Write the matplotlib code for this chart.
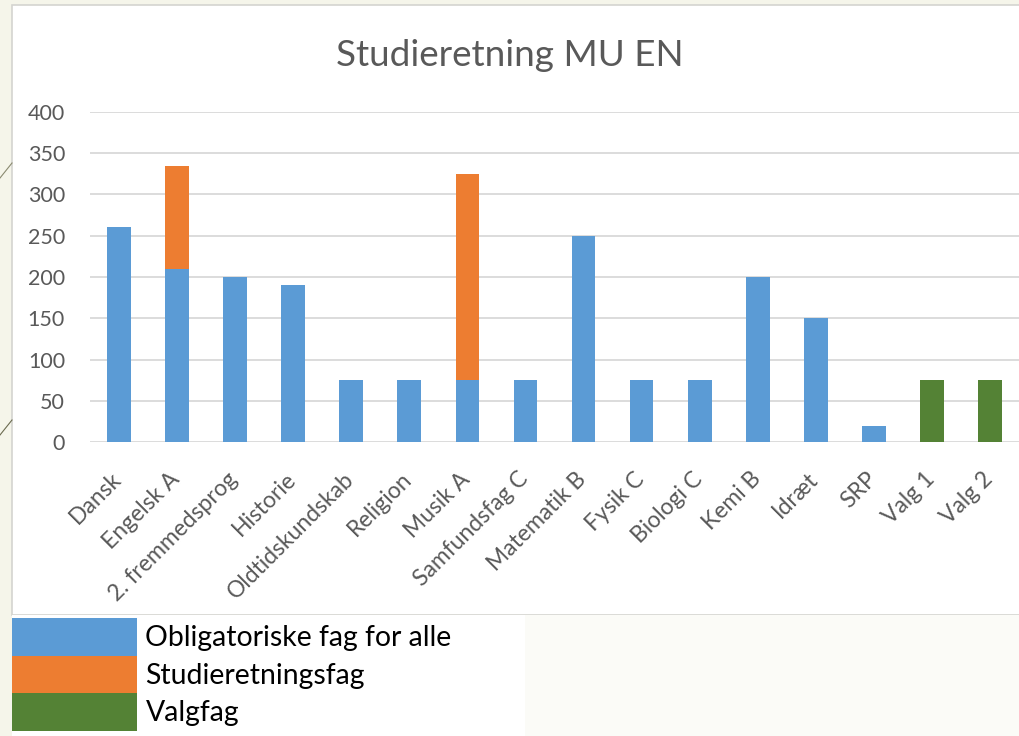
import matplotlib.pyplot as plt
import matplotlib.transforms as mtransforms
from matplotlib.patches import Rectangle, Patch
from matplotlib.lines import Line2D
import numpy as np

plt.rcParams["font.family"] = ["Lato", "DejaVu Sans"]

fag = ["Dansk", "Engelsk A", "2. fremmedsprog", "Historie", "Oldtidskundskab",
       "Religion", "Musik A", "Samfundsfag C", "Matematik B", "Fysik C",
       "Biologi C", "Kemi B", "Idræt", "SRP", "Valg 1", "Valg 2"]
obligatorisk = [260, 210, 200, 190, 75, 75, 75, 75, 250, 75, 75, 200, 150, 20, 0, 0]
studieretning = [0, 125, 0, 0, 0, 0, 250, 0, 0, 0, 0, 0, 0, 0, 0, 0]
valgfag = [0, 0, 0, 0, 0, 0, 0, 0, 0, 0, 0, 0, 0, 0, 75, 75]
serier = ["Obligatoriske fag for alle", "Studieretningsfag", "Valgfag"]
yticks = [0, 50, 100, 150, 200, 250, 300, 350, 400]

blue = "#5b9bd5"
orange = "#ed7d31"
green = "#548235"
grey = "#595959"

fig = plt.figure(figsize=(10.2, 7.36), dpi=100, facecolor="#f5f5ea")

# slide background pieces
fig.patches.append(Rectangle((12/1020, 121/736), 1008/1020, 610/736, transform=fig.transFigure,
                             facecolor="white", edgecolor="#d4d4d0", linewidth=1.2, zorder=-2))
fig.patches.append(Rectangle((12/1020, 0), 513/1020, 121/736, transform=fig.transFigure,
                             facecolor="white", edgecolor="none", zorder=-2))
fig.patches.append(Rectangle((525/1020, 0), 495/1020, 121/736, transform=fig.transFigure,
                             facecolor="#fbfbf7", edgecolor="none", zorder=-2))
fig.lines.append(Line2D([0, 12/1020], [1 - 178/736, 1 - 163/736], transform=fig.transFigure,
                        color="#8a8a70", linewidth=0.8, zorder=-1))
fig.lines.append(Line2D([0, 12/1020], [1 - 435/736, 1 - 420/736], transform=fig.transFigure,
                        color="#6b6b50", linewidth=0.8, zorder=-1))

ax = fig.add_axes([90/1020, 294/736, 929/1020, 330/736])
ax.set_zorder(2)
ax.set_facecolor("none")
x = np.arange(len(fag))
w = 0.41
bottom2 = np.array(obligatorisk)
bottom3 = bottom2 + np.array(studieretning)
ax.bar(x, obligatorisk, w, color=blue, zorder=3, label=serier[0])
ax.bar(x, studieretning, w, bottom=bottom2, color=orange, zorder=3, label=serier[1])
ax.bar(x, valgfag, w, bottom=bottom3, color=green, zorder=3, label=serier[2])

ax.set_xlim(-0.5, len(fag) - 0.5)
ax.set_ylim(0, 400)
ax.set_yticks(yticks)
ax.grid(axis="y", color="#d9d9d9", linewidth=1.3, zorder=0)
for s in ax.spines.values():
    s.set_visible(False)
ax.tick_params(length=0)
ax.tick_params(axis="y", labelsize=15.5, labelcolor=grey, pad=18)
ax.set_xticks(x)
ax.set_xticklabels(fag, rotation=45, ha="right", rotation_mode="anchor",
                   fontsize=16.5, color=grey)
ax.tick_params(axis="x", pad=19)
shift = mtransforms.ScaledTranslation(-8/100, 0, fig.dpi_scale_trans)
for lab in ax.get_xticklabels():
    lab.set_transform(lab.get_transform() + shift)

fig.text(510/1020, 1 - 55/736, "Studieretning MU EN", ha="center", va="center",
         fontsize=26.6, color=grey)

handles = [Patch(facecolor=c, edgecolor="none") for c in (blue, orange, green)]
leg = fig.legend(handles, serier, loc="lower left", bbox_to_anchor=(12/1020, 5/736),
                 frameon=False, fontsize=20.4, handlelength=4.41, handleheight=1.67,
                 labelspacing=0.0, handletextpad=0.3, borderpad=0, borderaxespad=0)
leg.set_zorder(3)
for t in leg.get_texts():
    t.set_color("black")

fig.savefig("out.png", dpi=100, facecolor=fig.get_facecolor())
